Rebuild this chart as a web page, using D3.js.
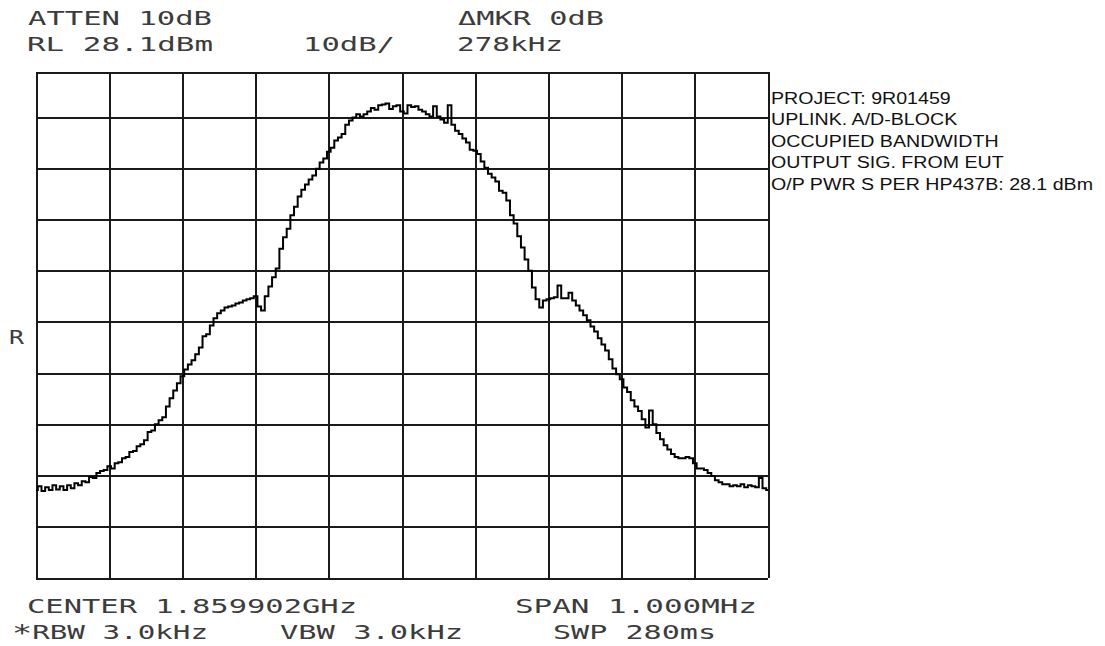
<!DOCTYPE html>
<html>
<head>
<meta charset="utf-8">
<script src="https://cdn.jsdelivr.net/npm/d3@7"></script>
<style>
  html, body { margin: 0; padding: 0; background: #fff; }
  svg { display: block; }
  .hp { font-family: "DejaVu Sans Mono", monospace; font-size: 20px; fill: #3c3c3c; }
  .note { font-family: "Liberation Sans", Arial, sans-serif; font-size: 16px; fill: #111; }
  .grid line { stroke: #1a1a1a; stroke-width: 2; shape-rendering: crispEdges; }
  .grid path { display: none; }
</style>
</head>
<body>
<svg id="chart" width="1105" height="646"></svg>
<script>
// Spectrum analyser settings
const refLevelDbm = 28.1;
const dbPerDiv = 10;
const verticalDivs = 10;
const spanKHz = 1000;
const horizontalDivs = 10;
const sweepStepKHz = 5;

// Trace level (dBm), one value per 5 kHz sweep point from -500 kHz to +500 kHz about centre
const levelDbm = [
  -54.7, -54.0, -54.9, -54.2, -54.7, -53.8, -54.6, -54.0, -54.7, -53.8,
  -54.4, -53.4, -53.8, -53.0, -53.2, -52.2, -52.4, -51.4, -51.0, -50.8,
  -50.1, -50.5, -49.5, -49.3, -48.5, -48.3, -47.3, -47.1, -46.2, -45.8,
  -45.0, -43.4, -43.1, -41.9, -41.1, -40.5, -38.4, -36.8, -35.3, -33.9,
  -32.5, -31.2, -30.2, -29.4, -28.2, -26.9, -24.7, -24.3, -22.6, -21.2,
  -20.2, -19.7, -19.1, -18.9, -18.7, -18.3, -18.1, -17.7, -17.5, -17.3,
  -16.9, -18.9, -19.7, -16.9, -15.0, -13.2, -11.5, -7.6, -5.4, -3.7,
  -1.1, 0.6, 2.6, 3.9, 4.9, 5.9, 6.7, 8.0, 9.2, 10.0,
  11.3, 12.1, 13.5, 14.1, 14.8, 16.6, 17.4, 18.0, 18.7, 18.2,
  18.7, 19.3, 20.1, 19.7, 20.7, 20.9, 21.1, 19.9, 20.5, 20.7,
  19.3, 18.9, 20.7, 20.3, 20.5, 19.7, 19.3, 18.7, 18.2, 20.5,
  18.2, 17.6, 17.0, 20.7, 16.6, 15.4, 14.8, 13.9, 13.1, 11.7,
  11.5, 10.9, 9.4, 8.2, 7.0, 6.3, 5.5, 3.7, 3.3, 1.8,
  -1.1, -2.7, -5.2, -7.4, -9.7, -11.9, -15.2, -17.5, -19.1, -17.7,
  -17.5, -17.3, -17.1, -14.8, -17.3, -17.3, -16.2, -17.7, -18.7, -19.7,
  -20.6, -21.6, -22.8, -23.8, -25.1, -26.3, -27.5, -29.2, -31.0, -32.1,
  -33.1, -34.7, -35.6, -37.2, -38.4, -39.3, -40.9, -42.5, -39.2, -41.9,
  -43.6, -44.8, -46.0, -46.8, -47.7, -48.3, -48.5, -48.5, -48.3, -48.5,
  -49.5, -50.5, -50.5, -50.8, -51.4, -52.0, -52.8, -53.2, -53.6, -53.6,
  -54.0, -53.8, -54.0, -53.6, -54.2, -53.8, -54.0, -54.2, -52.4, -54.4,
  -54.7
];

// Annotation text
const headerRow1 = ["ATTEN 10dB", "\u0394MKR 0dB"];
const headerRow2 = ["RL 28.1dBm", "10dB/", "278kHz"];
const footerRow1 = ["CENTER 1.859902GHz", "SPAN 1.000MHz"];
const footerRow2 = ["*RBW 3.0kHz", "VBW 3.0kHz", "SWP 280ms"];
const refMarker = "R";
const notes = [
  "PROJECT: 9R01459",
  "UPLINK. A/D-BLOCK",
  "OCCUPIED BANDWIDTH",
  "OUTPUT SIG. FROM EUT",
  "O/P PWR S PER HP437B: 28.1 dBm"
];

const svg = d3.select("#chart");
// The top graticule row of the plot is slightly shallower than the others
const plot = { left: 36, right: 768, top: 72, firstLine: 117, bottom: 578 };

const x = d3.scaleLinear()
  .domain([-spanKHz / 2, spanKHz / 2])
  .range([plot.left, plot.right]);
const y = d3.scaleLinear()
  .domain([refLevelDbm - dbPerDiv * verticalDivs, refLevelDbm - dbPerDiv, refLevelDbm])
  .range([plot.bottom, plot.firstLine, plot.top]);

const freqKHz = levelDbm.map((_, i) => -spanKHz / 2 + i * sweepStepKHz);
const trace = freqKHz.map((f, i) => ({ f, v: levelDbm[i] }));

// Graticule from the axis generators
const xTicks = d3.range(horizontalDivs + 1).map(i => -spanKHz / 2 + i * spanKHz / horizontalDivs);
const yTicks = d3.range(verticalDivs + 1).map(i => refLevelDbm - i * dbPerDiv);

svg.append("g")
  .attr("class", "grid")
  .attr("transform", `translate(0,${plot.bottom})`)
  .call(d3.axisBottom(x).tickValues(xTicks).tickSize(-(plot.bottom - plot.top)).tickFormat(""));
svg.append("g")
  .attr("class", "grid")
  .attr("transform", `translate(${plot.left},0)`)
  .call(d3.axisLeft(y).tickValues(yTicks).tickSize(-(plot.right - plot.left)).tickFormat(""));

// Trace, drawn as the stepped sweep of the display
svg.append("path")
  .datum(trace)
  .attr("fill", "none")
  .attr("stroke", "#000")
  .attr("stroke-width", 2)
  .attr("d", d3.line().curve(d3.curveStep).x(d => x(d.f)).y(d => y(d.v)));

// Fixed-pitch instrument labels, stretched across their column span
function hpText(str, x0, x1, baseline) {
  const t = svg.append("text")
    .attr("class", "hp")
    .attr("x", x0)
    .attr("y", baseline)
    .attr("textLength", x1 - x0)
    .attr("lengthAdjust", "spacingAndGlyphs");
  if (str.startsWith("*")) {
    t.append("tspan").attr("font-size", 23).attr("dy", 2).text("*");
    t.append("tspan").attr("dy", -2).text(str.slice(1));
  } else {
    t.text(str);
  }
}

hpText(headerRow1[0], 28, 212, 25);
hpText(headerRow1[1], 458, 604, 25);
hpText(headerRow2[0], 27, 213, 51);
hpText(headerRow2[1], 303, 395, 51);
hpText(headerRow2[2], 457, 563, 51);

hpText(footerRow1[0], 27, 357, 613);
hpText(footerRow1[1], 515, 757, 613);
hpText(footerRow2[0], 12, 208, 639);
hpText(footerRow2[1], 280, 463, 639);
hpText(footerRow2[2], 553, 716, 639);

svg.append("text").attr("class", "hp")
  .attr("x", 9).attr("y", 344)
  .attr("textLength", 15).attr("lengthAdjust", "spacingAndGlyphs")
  .text(refMarker);

// Side notes, widened to the label field
const noteSel = svg.selectAll("text.note")
  .data(notes)
  .join("text")
  .attr("class", "note")
  .attr("x", 771)
  .attr("y", (d, i) => 103.5 + i * 21.5)
  .text(d => d);
const widest = d3.max(noteSel.nodes(), n => n.getComputedTextLength());
const stretch = (1093 - 771) / widest;
noteSel.each(function () {
  const w = this.getComputedTextLength();
  d3.select(this).attr("textLength", w * stretch).attr("lengthAdjust", "spacingAndGlyphs");
});
</script>
</body>
</html>
